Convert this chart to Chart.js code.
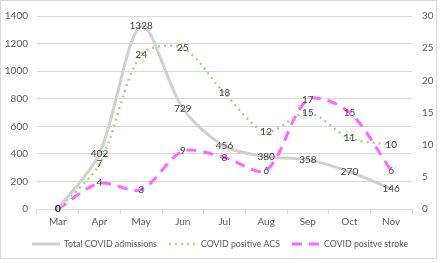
<!DOCTYPE html>
<html>
<head>
<meta charset="utf-8">
<script src="https://cdn.jsdelivr.net/npm/chart.js@4"></script>
<style>
  html, body { margin: 0; padding: 0; background: #fff; }
  #wrap { width: 440px; height: 263px; }
</style>
</head>
<body>
<div id="wrap"><canvas id="chart1" width="440" height="263"></canvas></div>
<script>
// data
const months = ['Mar', 'Apr', 'May', 'Jun', 'Jul', 'Aug', 'Sep', 'Oct', 'Nov'];
const totalAdmissions = [0, 402, 1328, 729, 456, 380, 358, 270, 146];
const positiveACS = [0, 7, 24, 25, 18, 12, 15, 11, 10];
const positiveStroke = [0, 4, 3, 9, 8, 6, 17, 15, 6];
const leftTicks = [0, 200, 400, 600, 800, 1000, 1200, 1400];
const rightTicks = [0, 5, 10, 15, 20, 25, 30];

// value labels drawn centred on every point
const pointLabels = {
    id: 'pointLabels',
    afterDatasetsDraw(chart) {
        const ctx = chart.ctx;
        ctx.save();
        ctx.font = '10px Lato';
        ctx.fillStyle = '#404040';
        ctx.textAlign = 'center';
        ctx.textBaseline = 'middle';
        chart.data.datasets.forEach((ds, i) => {
            chart.getDatasetMeta(i).data.forEach((pt, j) => {
                ctx.fillText(ds.data[j], pt.x, pt.y);
            });
        });
        ctx.restore();
    }
};

// frame round the chart + a legend drawn by hand (the built-in one loses the dashes)
const frameAndLegend = {
    id: 'frameAndLegend',
    beforeDraw(chart) {
        const ctx = chart.ctx;
        ctx.save();
        ctx.strokeStyle = '#d9d9d9';
        ctx.lineWidth = 1;
        ctx.strokeRect(0.5, 0.5, 436, 258);
        ctx.restore();
    },
    afterDraw(chart) {
        const ctx = chart.ctx;
        const lineW = 28, gap = 4, itemGap = 12, y = 244;
        ctx.save();
        ctx.font = '8.8px Lato';
        ctx.textBaseline = 'middle';
        const items = chart.data.datasets.map(ds => ({ ds, w: lineW + gap + ctx.measureText(ds.label).width }));
        const total = items.reduce((s, it) => s + it.w, 0) + itemGap * (items.length - 1);
        let x = (chart.width - total) / 2;
        items.forEach(it => {
            ctx.beginPath();
            ctx.strokeStyle = it.ds.borderColor;
            ctx.lineWidth = it.ds.borderWidth;
            ctx.setLineDash(it.ds.borderDash || []);
            ctx.moveTo(x, y);
            ctx.lineTo(x + lineW, y);
            ctx.stroke();
            ctx.setLineDash([]);
            ctx.fillStyle = '#595959';
            ctx.fillText(it.ds.label, x + lineW + gap, y);
            x += it.w + itemGap;
        });
        ctx.restore();
    }
};

const ctx = document.getElementById('chart1').getContext('2d');
new Chart(ctx, {
    type: 'line',
    data: {
        labels: months,
        datasets: [{
            label: 'Total COVID admissions',
            data: totalAdmissions,
            yAxisID: 'y',
            borderColor: '#d0d0d0',
            borderWidth: 3,
            tension: 0.3,
            pointRadius: 0
        }, {
            label: 'COVID positive ACS',
            data: positiveACS,
            yAxisID: 'y1',
            borderColor: '#a9d18e',
            borderWidth: 2.5,
            borderDash: [2, 4],
            tension: 0.3,
            pointRadius: 0
        }, {
            label: 'COVID positve stroke',
            data: positiveStroke,
            yAxisID: 'y1',
            borderColor: '#ff66ff',
            borderWidth: 3,
            borderDash: [10, 7],
            tension: 0.3,
            pointRadius: 0
        }]
    },
    options: {
        responsive: false,
        animation: false,
        layout: { padding: { top: 5, bottom: 33, right: 0, left: 0 } },
        scales: {
            x: {
                offset: true,
                grid: { offset: true, drawOnChartArea: false, tickLength: 5, color: '#d9d9d9' },
                border: { color: '#d9d9d9' },
                ticks: { color: '#595959', font: { family: 'Lato', size: 10 }, padding: 2 }
            },
            y: {
                position: 'left',
                min: 0,
                max: 1400,
                afterBuildTicks: axis => { axis.ticks = leftTicks.map(v => ({ value: v })); },
                afterFit: axis => { axis.width = 37; },
                grid: { color: '#d9d9d9', drawTicks: false },
                border: { display: false },
                ticks: { color: '#595959', font: { family: 'Lato', size: 10 }, padding: 9, callback: v => String(v) }
            },
            y1: {
                position: 'right',
                min: 0,
                max: 30,
                afterBuildTicks: axis => { axis.ticks = rightTicks.map(v => ({ value: v })); },
                afterFit: axis => { axis.width = 28; },
                grid: { drawOnChartArea: false, drawTicks: false },
                border: { display: false },
                ticks: { color: '#595959', font: { family: 'Lato', size: 10 }, padding: 10, callback: v => String(v) }
            }
        },
        plugins: {
            legend: { display: false },
            tooltip: { enabled: false }
        }
    },
    plugins: [pointLabels, frameAndLegend]
});
</script>
</body>
</html>
